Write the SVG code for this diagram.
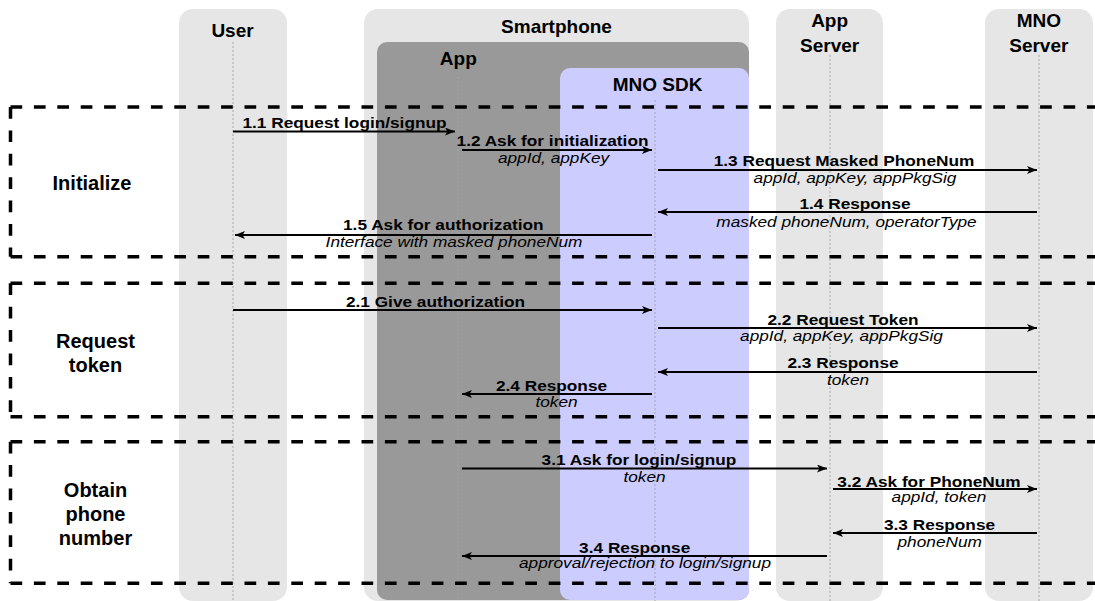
<svg xmlns="http://www.w3.org/2000/svg" width="1095" height="601" viewBox="0 0 1095 601">
<style>
.lane{fill:#e6e6e6}
.life{stroke:#a6a6a6;stroke-width:1;stroke-dasharray:2 2;fill:none}
.title{font-family:"Liberation Sans",Arial,sans-serif;font-weight:bold;font-size:19px;fill:#000;text-anchor:middle}
.sec{font-family:"Liberation Sans",Arial,sans-serif;font-weight:bold;font-size:20px;fill:#000;text-anchor:middle}
.frame{fill:none;stroke:#000;stroke-width:3.5;stroke-dasharray:11.7 11.7}
.msg{stroke:#000;stroke-width:2;fill:none;marker-end:url(#arr)}
.b{font-family:"Liberation Sans",Arial,sans-serif;font-weight:bold;font-size:15px;fill:#000;text-anchor:middle}
.i{font-family:"Liberation Sans",Arial,sans-serif;font-style:italic;font-size:15px;fill:#000;text-anchor:middle}
</style>
<defs>
<marker id="arr" viewBox="0 0 10 8" refX="10" refY="4" markerWidth="10" markerHeight="8" markerUnits="userSpaceOnUse" orient="auto">
<path d="M0,0 L10,4 L0,8 L2.5,4 z" fill="#000"/>
</marker>
</defs>
<rect width="1095" height="601" fill="#fff"/>

<g id="lane-user">
<rect class="lane" x="179" y="9" width="108" height="592" rx="14"/>
<text class="title" x="232.5" y="36.5">User</text>
<line class="life" x1="233" y1="42" x2="233" y2="601"/>
</g>

<g id="lane-smartphone">
<rect class="lane" x="364" y="9" width="385" height="592" rx="14"/>
<text class="title" x="556.5" y="33">Smartphone</text>
</g>

<g id="box-app">
<rect x="377" y="42" width="372" height="558" rx="10" fill="#999999"/>
<text class="title" x="458.3" y="65">App</text>
<line class="life" x1="458" y1="77" x2="458" y2="601"/>
</g>

<g id="box-mnosdk">
<rect x="560" y="68" width="189" height="532" rx="10" fill="#ccccff"/>
<text class="title" x="657.5" y="91">MNO SDK</text>
<line class="life" x1="655" y1="100" x2="655" y2="601"/>
</g>

<g id="lane-appserver">
<rect class="lane" x="776" y="9" width="107" height="592" rx="14"/>
<text class="title" x="829.6" y="27">App</text>
<text class="title" x="829.6" y="52">Server</text>
<line class="life" x1="830" y1="55" x2="830" y2="601"/>
</g>

<g id="lane-mnoserver">
<rect class="lane" x="985" y="9" width="108" height="592" rx="14"/>
<text class="title" x="1038.8" y="27">MNO</text>
<text class="title" x="1038.8" y="52">Server</text>
<line class="life" x1="1039" y1="55" x2="1039" y2="601"/>
</g>

<g id="section-initialize">
<path class="frame" d="M10.5,107 H1110 M10.5,107 V256.7 M10.5,256.7 H1110"/>
<text class="sec" x="92" y="190">Initialize</text>
</g>

<g id="section-request-token">
<path class="frame" d="M10.5,283.3 H1110 M10.5,283.3 V416.7 M10.5,416.7 H1110"/>
<text class="sec" x="95.5" y="348">Request</text>
<text class="sec" x="95.5" y="372">token</text>
</g>

<g id="section-obtain">
<path class="frame" d="M10.5,441.7 H1110 M10.5,441.7 V583.3 M10.5,583.3 H1110"/>
<text class="sec" x="95.5" y="497">Obtain</text>
<text class="sec" x="95.5" y="521">phone</text>
<text class="sec" x="95.5" y="545">number</text>
</g>

<g id="connectors">
<g id="m11">
<line class="msg" x1="233" y1="131.5" x2="455" y2="131.5"/>
<text class="b" transform="translate(344.5,128) scale(1.15,1)">1.1 Request login/signup</text>
</g>
<g id="m12">
<line class="msg" x1="462" y1="150" x2="652" y2="150"/>
<text class="b" transform="translate(552.5,146) scale(1.15,1)">1.2 Ask for initialization</text>
<text class="i" transform="translate(553.5,162.5) scale(1.15,1)">appId, appKey</text>
</g>
<g id="m13">
<line class="msg" x1="658" y1="170" x2="1037" y2="170"/>
<text class="b" transform="translate(844,165.5) scale(1.15,1)">1.3 Request Masked PhoneNum</text>
<text class="i" transform="translate(855,183) scale(1.15,1)">appId, appKey, appPkgSig</text>
</g>
<g id="m14">
<line class="msg" x1="1037" y1="212" x2="658" y2="212"/>
<text class="b" transform="translate(855,209.3) scale(1.15,1)">1.4 Response</text>
<text class="i" transform="translate(846.5,226.5) scale(1.15,1)">masked phoneNum, operatorType</text>
</g>
<g id="m15">
<line class="msg" x1="652" y1="235" x2="235" y2="235"/>
<text class="b" transform="translate(443.3,230) scale(1.15,1)">1.5 Ask for authorization</text>
<text class="i" transform="translate(454,246.7) scale(1.15,1)">Interface with masked phoneNum</text>
</g>
<g id="m21">
<line class="msg" x1="233" y1="310" x2="652" y2="310"/>
<text class="b" transform="translate(435.5,306.5) scale(1.15,1)">2.1 Give authorization</text>
</g>
<g id="m22">
<line class="msg" x1="658" y1="328" x2="1037" y2="328"/>
<text class="b" transform="translate(843,325) scale(1.15,1)">2.2 Request Token</text>
<text class="i" transform="translate(841.5,340.5) scale(1.15,1)">appId, appKey, appPkgSig</text>
</g>
<g id="m23">
<line class="msg" x1="1037" y1="372" x2="658" y2="372"/>
<text class="b" transform="translate(843,368.3) scale(1.15,1)">2.3 Response</text>
<text class="i" transform="translate(848,385) scale(1.15,1)">token</text>
</g>
<g id="m24">
<line class="msg" x1="652" y1="394" x2="462" y2="394"/>
<text class="b" transform="translate(551.5,390.7) scale(1.15,1)">2.4 Response</text>
<text class="i" transform="translate(556.5,406.7) scale(1.15,1)">token</text>
</g>
<g id="m31">
<line class="msg" x1="462" y1="468.5" x2="827" y2="468.5"/>
<text class="b" transform="translate(639,465) scale(1.15,1)">3.1 Ask for login/signup</text>
<text class="i" transform="translate(644.5,481.7) scale(1.15,1)">token</text>
</g>
<g id="m32">
<line class="msg" x1="833" y1="489" x2="1037" y2="489"/>
<text class="b" transform="translate(929,486.7) scale(1.15,1)">3.2 Ask for PhoneNum</text>
<text class="i" transform="translate(939,502) scale(1.15,1)">appId, token</text>
</g>
<g id="m33">
<line class="msg" x1="1037" y1="533" x2="833" y2="533"/>
<text class="b" transform="translate(939.5,530) scale(1.15,1)">3.3 Response</text>
<text class="i" transform="translate(939.7,546.7) scale(1.15,1)">phoneNum</text>
</g>
<g id="m34">
<line class="msg" x1="827" y1="556" x2="462" y2="556"/>
<text class="b" transform="translate(634.7,552.7) scale(1.15,1)">3.4 Response</text>
<text class="i" transform="translate(645,568) scale(1.15,1)">approval/rejection to login/signup</text>
</g>
</g>
</svg>
